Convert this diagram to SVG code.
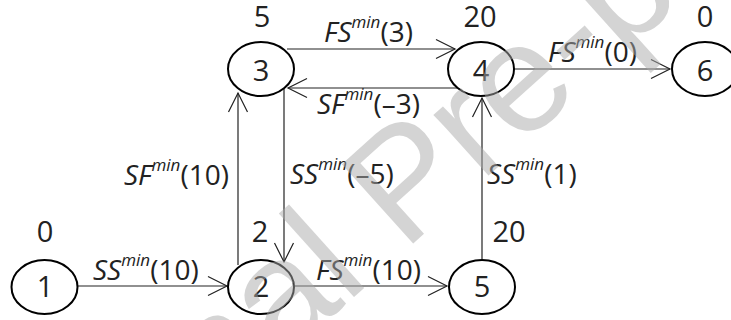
<svg xmlns="http://www.w3.org/2000/svg" width="731" height="320" viewBox="0 0 731 320">
<style>
.node{fill:#fff;stroke:#000;stroke-width:2}
.num{font-family:"Open Sans","Liberation Sans",sans-serif;font-size:29px;fill:#222;text-anchor:middle}
.lbl{font-family:"Open Sans","Liberation Sans",sans-serif;font-size:28px;fill:#222}
.it{font-style:italic}
.sup{font-style:italic;font-size:17px}
.edge{stroke:#222;stroke-width:1.2;fill:none;marker-end:url(#arr)}
.wm{font-family:"Liberation Sans",Arial,sans-serif;font-size:155px;fill:#aaa;opacity:0.5}
</style>
<defs>
<marker id="arr" markerUnits="userSpaceOnUse" markerWidth="22" markerHeight="22" viewBox="0 0 22 22" refX="20" refY="11" orient="auto">
<path d="M1,1.5 L20,11 L1,20.5" fill="none" stroke="#222" stroke-width="1.2"/>
</marker>
</defs>
<g id="connectors">
<line class="edge" x1="77.5" y1="286" x2="227" y2="286"/>
<line class="edge" x1="294" y1="286" x2="447" y2="286"/>
<line class="edge" x1="238" y1="265" x2="238" y2="93"/>
<line class="edge" x1="284" y1="89" x2="284" y2="262"/>
<line class="edge" x1="287" y1="49" x2="455" y2="49"/>
<line class="edge" x1="457" y1="88" x2="288" y2="88"/>
<line class="edge" x1="482" y1="259" x2="482" y2="98"/>
<line class="edge" x1="514" y1="69" x2="670" y2="69"/>
</g>
<g id="node1"><ellipse class="node" cx="44.5" cy="287" rx="33" ry="27"/><text class="num" x="45" y="297">1</text><text class="num" x="45" y="242">0</text></g>
<g id="node2"><ellipse class="node" cx="261" cy="287" rx="33" ry="27"/><text class="num" x="261" y="297">2</text><text class="num" x="260" y="242">2</text></g>
<g id="node3"><ellipse class="node" cx="261" cy="69" rx="33" ry="27"/><text class="num" x="261" y="81">3</text><text class="num" x="262" y="27">5</text></g>
<g id="node4"><ellipse class="node" cx="481" cy="69" rx="33" ry="27"/><text class="num" x="481" y="81">4</text><text class="num" x="480" y="27">20</text></g>
<g id="node5"><ellipse class="node" cx="482" cy="287" rx="33" ry="27"/><text class="num" x="482" y="297">5</text><text class="num" x="509" y="242">20</text></g>
<g id="node6"><ellipse class="node" cx="705" cy="69" rx="33" ry="27"/><text class="num" x="705" y="81">6</text><text class="num" x="705" y="27">0</text></g>
<g id="edge-labels">
<text class="lbl" x="93" y="280"><tspan class="it">SS</tspan><tspan class="sup" dy="-14">min</tspan><tspan dy="14">(10)</tspan></text>
<text class="lbl" x="316" y="280"><tspan class="it">FS</tspan><tspan class="sup" dy="-14">min</tspan><tspan dy="14">(10)</tspan></text>
<text class="lbl" x="124" y="185"><tspan class="it">SF</tspan><tspan class="sup" dy="-14">min</tspan><tspan dy="14">(10)</tspan></text>
<text class="lbl" x="290" y="184"><tspan class="it">SS</tspan><tspan class="sup" dy="-14">min</tspan><tspan dy="14">(–5)</tspan></text>
<text class="lbl" x="487" y="184"><tspan class="it">SS</tspan><tspan class="sup" dy="-14">min</tspan><tspan dy="14">(1)</tspan></text>
<text class="lbl" x="324" y="42"><tspan class="it">FS</tspan><tspan class="sup" dy="-14">min</tspan><tspan dy="14">(3)</tspan></text>
<text class="lbl" x="317" y="114"><tspan class="it">SF</tspan><tspan class="sup" dy="-14">min</tspan><tspan dy="14">(–3)</tspan></text>
<text class="lbl" x="548" y="62"><tspan class="it">FS</tspan><tspan class="sup" dy="-14">min</tspan><tspan dy="14">(0)</tspan></text>
</g>
<text class="wm" transform="translate(-6,621) rotate(-42)">Journal Pre-proof</text>
</svg>
